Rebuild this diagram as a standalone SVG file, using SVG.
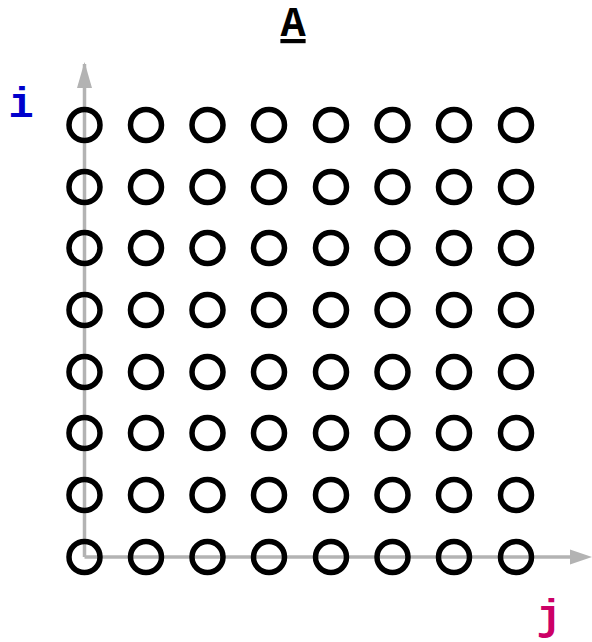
<svg xmlns="http://www.w3.org/2000/svg" width="592" height="642" viewBox="0 0 592 642">
<style>
.ax{stroke:#b3b3b3;stroke-width:3.5;fill:none}
.n{fill:none;stroke:#000;stroke-width:5.5}
.t{font-family:"Liberation Mono","DejaVu Sans Mono",monospace;font-weight:bold}
</style>
<defs>
<marker id="ah" markerUnits="userSpaceOnUse" markerWidth="24" markerHeight="18" refX="22" refY="9" orient="auto" viewBox="0 0 24 18">
<path d="M0,0 L24,9 L0,18 Z" fill="#b3b3b3"/>
</marker>
</defs>
<rect width="592" height="642" fill="#fff"/>
<g id="connectors">
<path class="ax" d="M84.5,557 V64"/>
<path d="M84.5,62 L77,88 L92,88 Z" fill="#b3b3b3"/>
<path class="ax" d="M84.5,557 H572"/>
<path d="M592,557 L570,549.5 L570,564.5 Z" fill="#b3b3b3"/>
</g>
<text class="t" x="293" y="36" font-size="42" text-anchor="middle" text-decoration="underline">A</text>
<text class="t" x="21" y="117" font-size="42" text-anchor="middle" fill="#0000cc">i</text>
<text class="t" x="549" y="629" font-size="42" text-anchor="middle" fill="#cc0066">j</text>
<g id="nodes">
<g id="r0"><circle class="n" cx="84.5" cy="125" r="15.5"/><circle class="n" cx="146" cy="125" r="15.5"/><circle class="n" cx="207.5" cy="125" r="15.5"/><circle class="n" cx="269" cy="125" r="15.5"/><circle class="n" cx="331" cy="125" r="15.5"/><circle class="n" cx="392.5" cy="125" r="15.5"/><circle class="n" cx="454" cy="125" r="15.5"/><circle class="n" cx="516" cy="125" r="15.5"/></g>
<g id="r1"><circle class="n" cx="84.5" cy="187" r="15.5"/><circle class="n" cx="146" cy="187" r="15.5"/><circle class="n" cx="207.5" cy="187" r="15.5"/><circle class="n" cx="269" cy="187" r="15.5"/><circle class="n" cx="331" cy="187" r="15.5"/><circle class="n" cx="392.5" cy="187" r="15.5"/><circle class="n" cx="454" cy="187" r="15.5"/><circle class="n" cx="516" cy="187" r="15.5"/></g>
<g id="r2"><circle class="n" cx="84.5" cy="248" r="15.5"/><circle class="n" cx="146" cy="248" r="15.5"/><circle class="n" cx="207.5" cy="248" r="15.5"/><circle class="n" cx="269" cy="248" r="15.5"/><circle class="n" cx="331" cy="248" r="15.5"/><circle class="n" cx="392.5" cy="248" r="15.5"/><circle class="n" cx="454" cy="248" r="15.5"/><circle class="n" cx="516" cy="248" r="15.5"/></g>
<g id="r3"><circle class="n" cx="84.5" cy="310" r="15.5"/><circle class="n" cx="146" cy="310" r="15.5"/><circle class="n" cx="207.5" cy="310" r="15.5"/><circle class="n" cx="269" cy="310" r="15.5"/><circle class="n" cx="331" cy="310" r="15.5"/><circle class="n" cx="392.5" cy="310" r="15.5"/><circle class="n" cx="454" cy="310" r="15.5"/><circle class="n" cx="516" cy="310" r="15.5"/></g>
<g id="r4"><circle class="n" cx="84.5" cy="372" r="15.5"/><circle class="n" cx="146" cy="372" r="15.5"/><circle class="n" cx="207.5" cy="372" r="15.5"/><circle class="n" cx="269" cy="372" r="15.5"/><circle class="n" cx="331" cy="372" r="15.5"/><circle class="n" cx="392.5" cy="372" r="15.5"/><circle class="n" cx="454" cy="372" r="15.5"/><circle class="n" cx="516" cy="372" r="15.5"/></g>
<g id="r5"><circle class="n" cx="84.5" cy="433" r="15.5"/><circle class="n" cx="146" cy="433" r="15.5"/><circle class="n" cx="207.5" cy="433" r="15.5"/><circle class="n" cx="269" cy="433" r="15.5"/><circle class="n" cx="331" cy="433" r="15.5"/><circle class="n" cx="392.5" cy="433" r="15.5"/><circle class="n" cx="454" cy="433" r="15.5"/><circle class="n" cx="516" cy="433" r="15.5"/></g>
<g id="r6"><circle class="n" cx="84.5" cy="495" r="15.5"/><circle class="n" cx="146" cy="495" r="15.5"/><circle class="n" cx="207.5" cy="495" r="15.5"/><circle class="n" cx="269" cy="495" r="15.5"/><circle class="n" cx="331" cy="495" r="15.5"/><circle class="n" cx="392.5" cy="495" r="15.5"/><circle class="n" cx="454" cy="495" r="15.5"/><circle class="n" cx="516" cy="495" r="15.5"/></g>
<g id="r7"><circle class="n" cx="84.5" cy="557" r="15.5"/><circle class="n" cx="146" cy="557" r="15.5"/><circle class="n" cx="207.5" cy="557" r="15.5"/><circle class="n" cx="269" cy="557" r="15.5"/><circle class="n" cx="331" cy="557" r="15.5"/><circle class="n" cx="392.5" cy="557" r="15.5"/><circle class="n" cx="454" cy="557" r="15.5"/><circle class="n" cx="516" cy="557" r="15.5"/></g>
</g>
</svg>
